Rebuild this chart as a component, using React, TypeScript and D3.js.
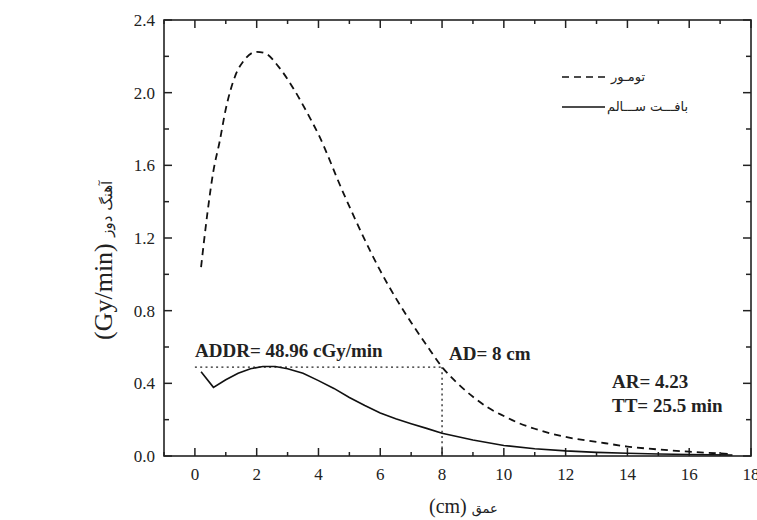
import * as d3 from "d3";
import React from "react";

// depth (cm) and dose rate (Gy/min)
const tumorDepth = [0.2, 0.4, 0.6, 0.8, 1.0, 1.3, 1.6, 2.0, 2.3, 2.7, 3.2, 3.6, 4.0, 4.8, 5.5, 6.0, 6.5, 7.0, 7.5, 8.0, 8.5, 9.0, 9.5, 10.0, 10.5, 11.0, 12.0, 13.0, 14.0, 15.0, 16.0, 17.0, 17.4];
const tumorRate = [1.04, 1.33, 1.57, 1.73, 1.91, 2.09, 2.18, 2.225, 2.215, 2.145, 2.02, 1.9, 1.77, 1.45, 1.19, 1.02, 0.87, 0.735, 0.61, 0.49, 0.4, 0.326, 0.265, 0.22, 0.18, 0.15, 0.105, 0.078, 0.052, 0.036, 0.024, 0.014, 0.011];

const healthyDepth = [0.2, 0.6, 1.0, 1.4, 1.8, 2.2, 2.6, 3.0, 3.5, 4.0, 4.5, 5.0, 5.5, 6.0, 6.5, 7.0, 7.5, 8.0, 9.0, 10.0, 11.0, 12.0, 13.0, 14.0, 15.0, 16.0, 17.4];
const healthyRate = [0.464, 0.378, 0.42, 0.455, 0.48, 0.493, 0.493, 0.48, 0.455, 0.415, 0.372, 0.322, 0.278, 0.237, 0.205, 0.178, 0.152, 0.125, 0.088, 0.058, 0.04, 0.028, 0.02, 0.015, 0.011, 0.008, 0.005];

const xTicks = [0, 2, 4, 6, 8, 10, 12, 14, 16, 18];
const xMinorTicks = [-1, 1, 3, 5, 7, 9, 11, 13, 15, 17];
const yTicks = [0, 0.4, 0.8, 1.2, 1.6, 2.0, 2.4];
const yMinorTicks = [0.2, 0.6, 1.0, 1.4, 1.8, 2.2];

const accessDepth = 8;
const accessRate = 0.4896;

const legendLabels = ["تومـور", "بافـــت ســـالم"];

const App = () => {
    const width = 757;
    const height = 520;
    const margin = { top: 20, right: 6, bottom: 64, left: 164 };

    const xScale = d3.scaleLinear().domain([-1, 18]).range([margin.left, width - margin.right]);
    const yScale = d3.scaleLinear().domain([0, 2.4]).range([height - margin.bottom, margin.top]);

    const line = d3.line<[number, number]>()
        .x(d => xScale(d[0]))
        .y(d => yScale(d[1]));

    const tumorPath = line.curve(d3.curveMonotoneX)(tumorDepth.map((x, i) => [x, tumorRate[i]]));
    const healthyPath = line.curve(d3.curveLinear)(healthyDepth.map((x, i) => [x, healthyRate[i]]));

    const x0 = xScale.range()[0], x1 = xScale.range()[1];
    const y0 = yScale.range()[0], y1 = yScale.range()[1];
    const serif = "'Liberation Serif', 'Times New Roman', serif";
    const persian = "'DejaVu Sans', sans-serif";

    return (
        <svg width={width} height={height} style={{ position: "absolute", left: 0, top: 0, background: "#fff" }}>
            {/* inward ticks on all four sides */}
            <g stroke="#222" strokeWidth={1.5}>
                {xTicks.map(t => (
                    <g key={"xt" + t}>
                        <line x1={xScale(t)} x2={xScale(t)} y1={y0} y2={y0 - 8} />
                        <line x1={xScale(t)} x2={xScale(t)} y1={y1} y2={y1 + 8} />
                    </g>
                ))}
                {xMinorTicks.map(t => (
                    <g key={"xm" + t}>
                        <line x1={xScale(t)} x2={xScale(t)} y1={y0} y2={y0 - 4} />
                        <line x1={xScale(t)} x2={xScale(t)} y1={y1} y2={y1 + 4} />
                    </g>
                ))}
                {yTicks.map(t => (
                    <g key={"yt" + t}>
                        <line x1={x0} x2={x0 + 8} y1={yScale(t)} y2={yScale(t)} />
                        <line x1={x1} x2={x1 - 8} y1={yScale(t)} y2={yScale(t)} />
                    </g>
                ))}
                {yMinorTicks.map(t => (
                    <g key={"ym" + t}>
                        <line x1={x0} x2={x0 + 5} y1={yScale(t)} y2={yScale(t)} />
                        <line x1={x1} x2={x1 - 5} y1={yScale(t)} y2={yScale(t)} />
                    </g>
                ))}
            </g>

            {/* tick labels */}
            <g fontFamily={serif} fontSize={17} fill="#222">
                {xTicks.map(t => (
                    <text key={"xl" + t} x={xScale(t)} y={y0 + 24} textAnchor="middle">{t}</text>
                ))}
                {yTicks.map(t => (
                    <text key={"yl" + t} x={x0 - 9} y={yScale(t) + 6} textAnchor="end">{t.toFixed(1)}</text>
                ))}
            </g>

            {/* access depth guide lines */}
            <g stroke="#222" strokeWidth={1.3} strokeDasharray="2,3.3" fill="none">
                <line x1={xScale(0)} x2={xScale(accessDepth)} y1={yScale(accessRate)} y2={yScale(accessRate)} />
                <line x1={xScale(accessDepth)} x2={xScale(accessDepth)} y1={yScale(accessRate)} y2={y0} />
            </g>

            <path d={tumorPath} fill="none" stroke="#111" strokeWidth={1.8} strokeDasharray="7,5" />
            <path d={healthyPath} fill="none" stroke="#111" strokeWidth={1.6} />

            <rect x={x0} y={y1} width={x1 - x0} height={y0 - y1} fill="none" stroke="#222" strokeWidth={1.6} />

            {/* legend */}
            <line x1={562} x2={605} y1={77} y2={77} stroke="#111" strokeWidth={1.6} strokeDasharray="7,5" />
            <text x={611} y={81} fontFamily={persian} fontSize={13} fill="#222">{legendLabels[0]}</text>
            <line x1={562} x2={605} y1={107} y2={107} stroke="#111" strokeWidth={1.6} />
            <text x={607} y={111} fontFamily={persian} fontSize={13} fill="#222">{legendLabels[1]}</text>

            {/* annotations */}
            <g fontFamily={serif} fontSize={19} fontWeight="bold" fill="#222">
                <text x={195} y={357}>ADDR= 48.96 cGy/min</text>
                <text x={449} y={360}>AD= 8 cm</text>
                <text x={612} y={388}>AR= 4.23</text>
                <text x={612} y={412}>TT= 25.5 min</text>
            </g>

            {/* axis titles */}
            <text x={429} y={513} fontFamily={serif} fontSize={20} fill="#222">
                (cm) <tspan fontFamily={persian} fontSize={13}>عمق</tspan>
            </text>
            <text transform="translate(112,340) rotate(-90)" fontFamily={serif} fontSize={26} fill="#222">
                (Gy/min) <tspan fontFamily={persian} fontSize={15}>آهنگ دوز</tspan>
            </text>
        </svg>
    );
};

export default App;
